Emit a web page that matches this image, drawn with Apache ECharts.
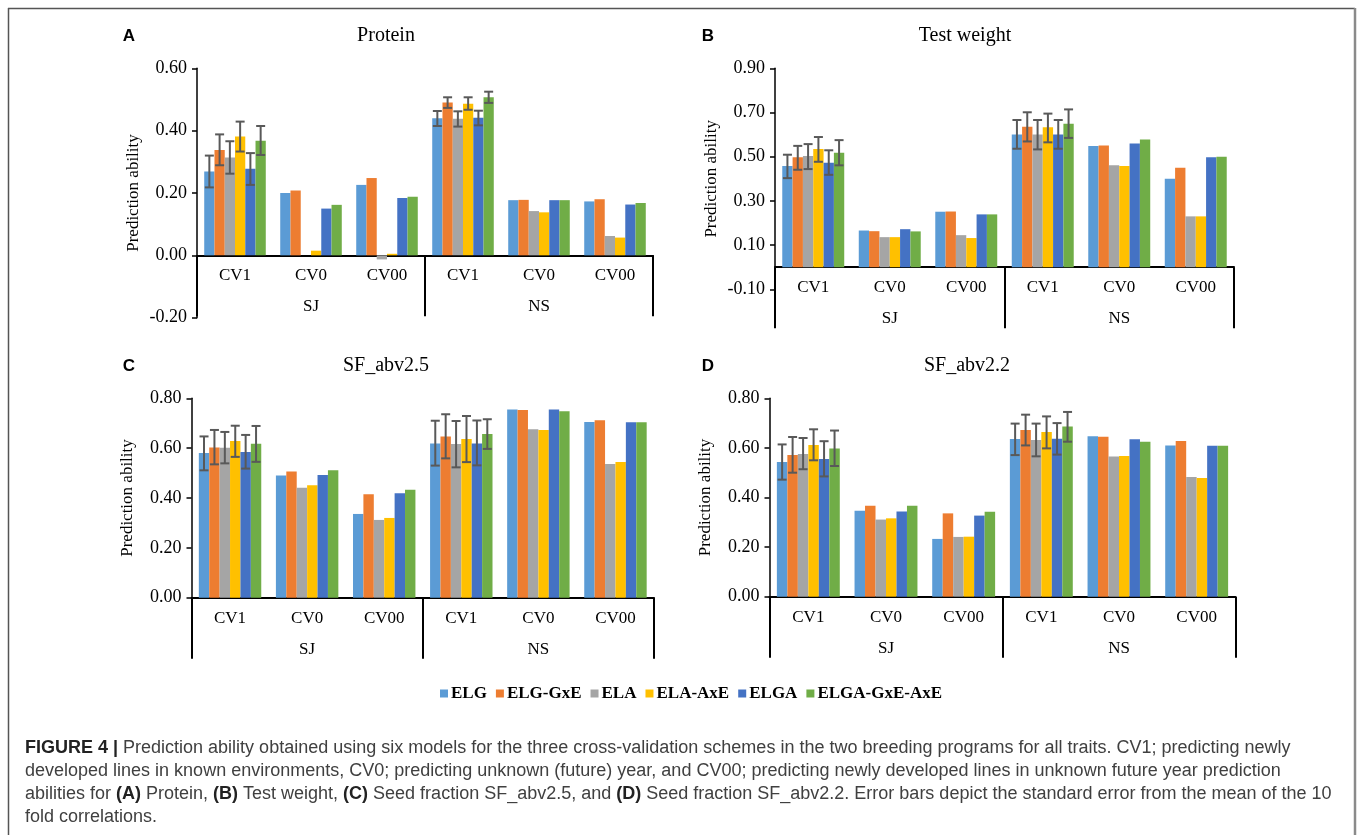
<!DOCTYPE html>
<html><head><meta charset="utf-8">
<script src="https://cdn.jsdelivr.net/npm/echarts@6/dist/echarts.min.js"></script>
<style>html,body{margin:0;padding:0;background:#fff}#c{width:1357px;height:835px}</style>
</head><body><div id="c"></div>
<script>
// ---------------- DATA ----------------
const models = ['ELG','ELG-GxE','ELA','ELA-AxE','ELGA','ELGA-GxE-AxE'];
const schemes = ['CV1','CV0','CV00','CV1','CV0','CV00'];
const programs = ['SJ','NS'];
const titles = ['Protein','Test weight','SF_abv2.5','SF_abv2.2'];
const letters = ['A','B','C','D'];
const yTicks = [[-0.2,0.6,0.2],[-0.1,0.9,0.2],[0,0.8,0.2],[0,0.8,0.2]]; // min,max,step

// rows: models; columns: SJ CV1, SJ CV0, SJ CV00, NS CV1, NS CV0, NS CV00
const protein = [
  [0.269,0.200,0.226,0.440,0.177,0.173],
  [0.338,0.208,0.248,0.490,0.178,0.180],
  [0.314,0.000,-0.013,0.438,0.142,0.062],
  [0.381,0.015,0.005,0.486,0.138,0.057],
  [0.278,0.150,0.184,0.441,0.177,0.163],
  [0.368,0.162,0.188,0.507,0.177,0.168]
];
const testWeight = [
  [0.458,0.166,0.251,0.601,0.548,0.400],
  [0.497,0.163,0.252,0.636,0.551,0.450],
  [0.503,0.136,0.145,0.601,0.461,0.230],
  [0.535,0.136,0.132,0.633,0.458,0.230],
  [0.473,0.172,0.239,0.601,0.560,0.497],
  [0.518,0.162,0.239,0.649,0.578,0.500]
];
const sf25 = [
  [0.581,0.490,0.336,0.619,0.755,0.705],
  [0.603,0.506,0.415,0.647,0.753,0.712],
  [0.602,0.441,0.312,0.617,0.676,0.536],
  [0.629,0.451,0.320,0.637,0.673,0.544],
  [0.585,0.492,0.419,0.619,0.755,0.704],
  [0.618,0.511,0.433,0.657,0.748,0.704]
];
const sf22 = [
  [0.543,0.347,0.233,0.636,0.647,0.610],
  [0.571,0.367,0.336,0.672,0.645,0.628],
  [0.575,0.311,0.241,0.632,0.565,0.483],
  [0.612,0.316,0.242,0.664,0.567,0.479],
  [0.555,0.344,0.327,0.637,0.635,0.609],
  [0.598,0.367,0.343,0.686,0.625,0.609]
];
// error bars (low, high) for SJ CV1 and NS CV1, rows: models
const proteinErr = [
  [[0.218,0.320],[0.415,0.463]],
  [[0.289,0.388],[0.473,0.507]],
  [[0.262,0.366],[0.413,0.462]],
  [[0.333,0.429],[0.467,0.507]],
  [[0.226,0.328],[0.417,0.464]],
  [[0.322,0.415],[0.489,0.525]]
];
const testWeightErr = [
  [[0.403,0.509],[0.536,0.666]],
  [[0.441,0.549],[0.569,0.701]],
  [[0.444,0.557],[0.533,0.666]],
  [[0.477,0.589],[0.565,0.695]],
  [[0.418,0.529],[0.536,0.666]],
  [[0.461,0.575],[0.585,0.714]]
];
const sf25Err = [
  [[0.511,0.647],[0.530,0.710]],
  [[0.535,0.673],[0.559,0.736]],
  [[0.539,0.665],[0.523,0.709]],
  [[0.565,0.690],[0.544,0.729]],
  [[0.518,0.653],[0.531,0.711]],
  [[0.545,0.689],[0.597,0.716]]
];
const sf22Err = [
  [[0.472,0.614],[0.571,0.698]],
  [[0.500,0.644],[0.610,0.734]],
  [[0.514,0.640],[0.566,0.698]],
  [[0.550,0.675],[0.598,0.727]],
  [[0.485,0.627],[0.573,0.700]],
  [[0.527,0.670],[0.625,0.745]]
];
const errCols = [0,3];

// ---------------- STYLE / LAYOUT ----------------
const colors = ['#5B9BD5','#ED7D31','#A5A5A5','#FFC000','#4472C4','#70AD47'];
const values = [protein,testWeight,sf25,sf22];
const errs = [proteinErr,testWeightErr,sf25Err,sf22Err];
const grids = [
  {left:197, top:68.3, width:456, height:249.4},
  {left:775, top:68.3, width:459, height:221},
  {left:191.5, top:398.3, width:462.5, height:199.4},
  {left:769.5, top:398.3, width:466, height:198.4}
];
const SERIF = '"Liberation Serif","Times New Roman",serif';
const SANS = '"Liberation Sans",Arial,sans-serif';
const GAP = 0.19;
const LABEL_DEPTH = 61;

const option = {
  animation:false,
  backgroundColor:'#fff',
  grid: grids.map(g=>Object.assign({containLabel:false}, g)),
  legend:{
    data: models, left:435, top:680, itemWidth:8, itemHeight:8, itemGap:9,
    icon:'rect', textStyle:{fontFamily:SERIF, fontWeight:'bold', fontSize:17, color:'#000', padding:[0,0,0,-2]}
  },
  xAxis:[], yAxis:[], series:[], graphic:[]
};

grids.forEach((g,i)=>{
  const [mn,mx,st] = yTicks[i];
  option.yAxis.push({
    type:'value', gridIndex:i, min:mn, max:mx, interval:st,
    name:'Prediction ability', nameLocation:'middle', nameGap:55,
    nameTextStyle:{fontFamily:SERIF, fontSize:17, color:'#000'},
    axisLine:{show:true, lineStyle:{color:'#000', width:1.5}},
    axisTick:{show:true, length:5, lineStyle:{color:'#000', width:1.5}},
    axisLabel:{fontFamily:SERIF, fontSize:18, color:'#000', margin:10, formatter:v=>v.toFixed(2)},
    splitLine:{show:false}
  });
  const zeroFromBottom = g.height*(0-mn)/(mx-mn);
  option.xAxis.push({
    type:'category', gridIndex:i, data:schemes, position:'bottom',
    offset: -zeroFromBottom,
    axisLine:{onZero:false, lineStyle:{color:'#000', width:2}},
    axisTick:{show:false},
    axisLabel:{fontFamily:SERIF, fontSize:17, color:'#000', margin:12},
    splitLine:{show:false}
  });
  option.xAxis.push({
    type:'category', gridIndex:i, data:programs, position:'bottom',
    offset: LABEL_DEPTH - zeroFromBottom,
    axisLine:{show:false, onZero:false},
    axisTick:{show:true, inside:true, length:LABEL_DEPTH, lineStyle:{color:'#000', width:2}},
    axisLabel:{inside:true, fontFamily:SERIF, fontSize:17, color:'#000', margin:1},
    splitLine:{show:false}
  });
  models.forEach((m,k)=>{
    option.series.push({
      type:'bar', name:m, xAxisIndex:2*i, yAxisIndex:i,
      data: values[i][k], barGap:'0%', barCategoryGap:(GAP*100)+'%',
      itemStyle:{color:colors[k]}, z:2
    });
  });
  const ed = [];
  errs[i].forEach((rows,k)=>rows.forEach((lh,j)=>ed.push([errCols[j], lh[0], lh[1], k])));
  option.series.push({
    type:'custom', name:'err'+i, xAxisIndex:2*i, yAxisIndex:i, z:5,
    encode:{x:0, y:[1,2]}, data:ed,
    renderItem:(params, api)=>{
      const cat = api.value(0), k = api.value(3);
      const band = api.size([1,0])[0];
      const span = band*(1-GAP), bw = span/6;
      const lo = api.coord([cat, api.value(1)]);
      const hi = api.coord([cat, api.value(2)]);
      const x = lo[0] - span/2 + (k+0.5)*bw;
      const st = {stroke:'#595959', lineWidth:2};
      const cap = 4.5;
      return {type:'group', children:[
        {type:'line', shape:{x1:x,y1:lo[1],x2:x,y2:hi[1]}, style:st},
        {type:'line', shape:{x1:x-cap,y1:hi[1],x2:x+cap,y2:hi[1]}, style:st},
        {type:'line', shape:{x1:x-cap,y1:lo[1],x2:x+cap,y2:lo[1]}, style:st}
      ]};
    }
  });
});

// titles and panel letters
const titlePos = [[386,36],[965,36],[386,366],[967,366]];
const letterPos = [[129,36],[708,36],[129,366],[708,366]];
titles.forEach((t,i)=>{
  option.graphic.push({type:'text', x:titlePos[i][0], y:titlePos[i][1],
    style:{text:t, font:'20px '+SERIF, fill:'#000', textAlign:'center', textVerticalAlign:'middle'}});
  option.graphic.push({type:'text', x:letterPos[i][0], y:letterPos[i][1],
    style:{text:letters[i], font:'bold 17px '+SANS, fill:'#000', textAlign:'center', textVerticalAlign:'middle'}});
});
// frame
option.graphic.push({type:'line', shape:{x1:8,y1:8.5,x2:1355,y2:8.5}, style:{stroke:'#555', lineWidth:1.5}});
option.graphic.push({type:'line', shape:{x1:8.5,y1:8,x2:8.5,y2:840}, style:{stroke:'#555', lineWidth:1.5}});
option.graphic.push({type:'line', shape:{x1:1355,y1:8,x2:1355,y2:840}, style:{stroke:'#8a8a8a', lineWidth:2.5}});
// caption
const capLines = [
  '{b|FIGURE 4 | }Prediction ability obtained using six models for the three cross-validation schemes in the two breeding programs for all traits. CV1; predicting newly',
  'developed lines in known environments, CV0; predicting unknown (future) year, and CV00; predicting newly developed lines in unknown future year prediction',
  'abilities for {b|(A)} Protein, {b|(B)} Test weight, {b|(C)} Seed fraction SF_abv2.5, and {b|(D)} Seed fraction SF_abv2.2. Error bars depict the standard error from the mean of the 10',
  'fold correlations.'
];
capLines.forEach((t,i)=>{
  option.graphic.push({type:'text', x:25, y:748+i*23,
    style:{text:t, font:'18px '+SANS, fill:'#404040', textVerticalAlign:'middle',
      rich:{b:{font:'bold 18px '+SANS, fill:'#222'}}}});
});

const chart = echarts.init(document.getElementById('c'), null, {renderer:'canvas'});
chart.setOption(option);
</script>
</body></html>
